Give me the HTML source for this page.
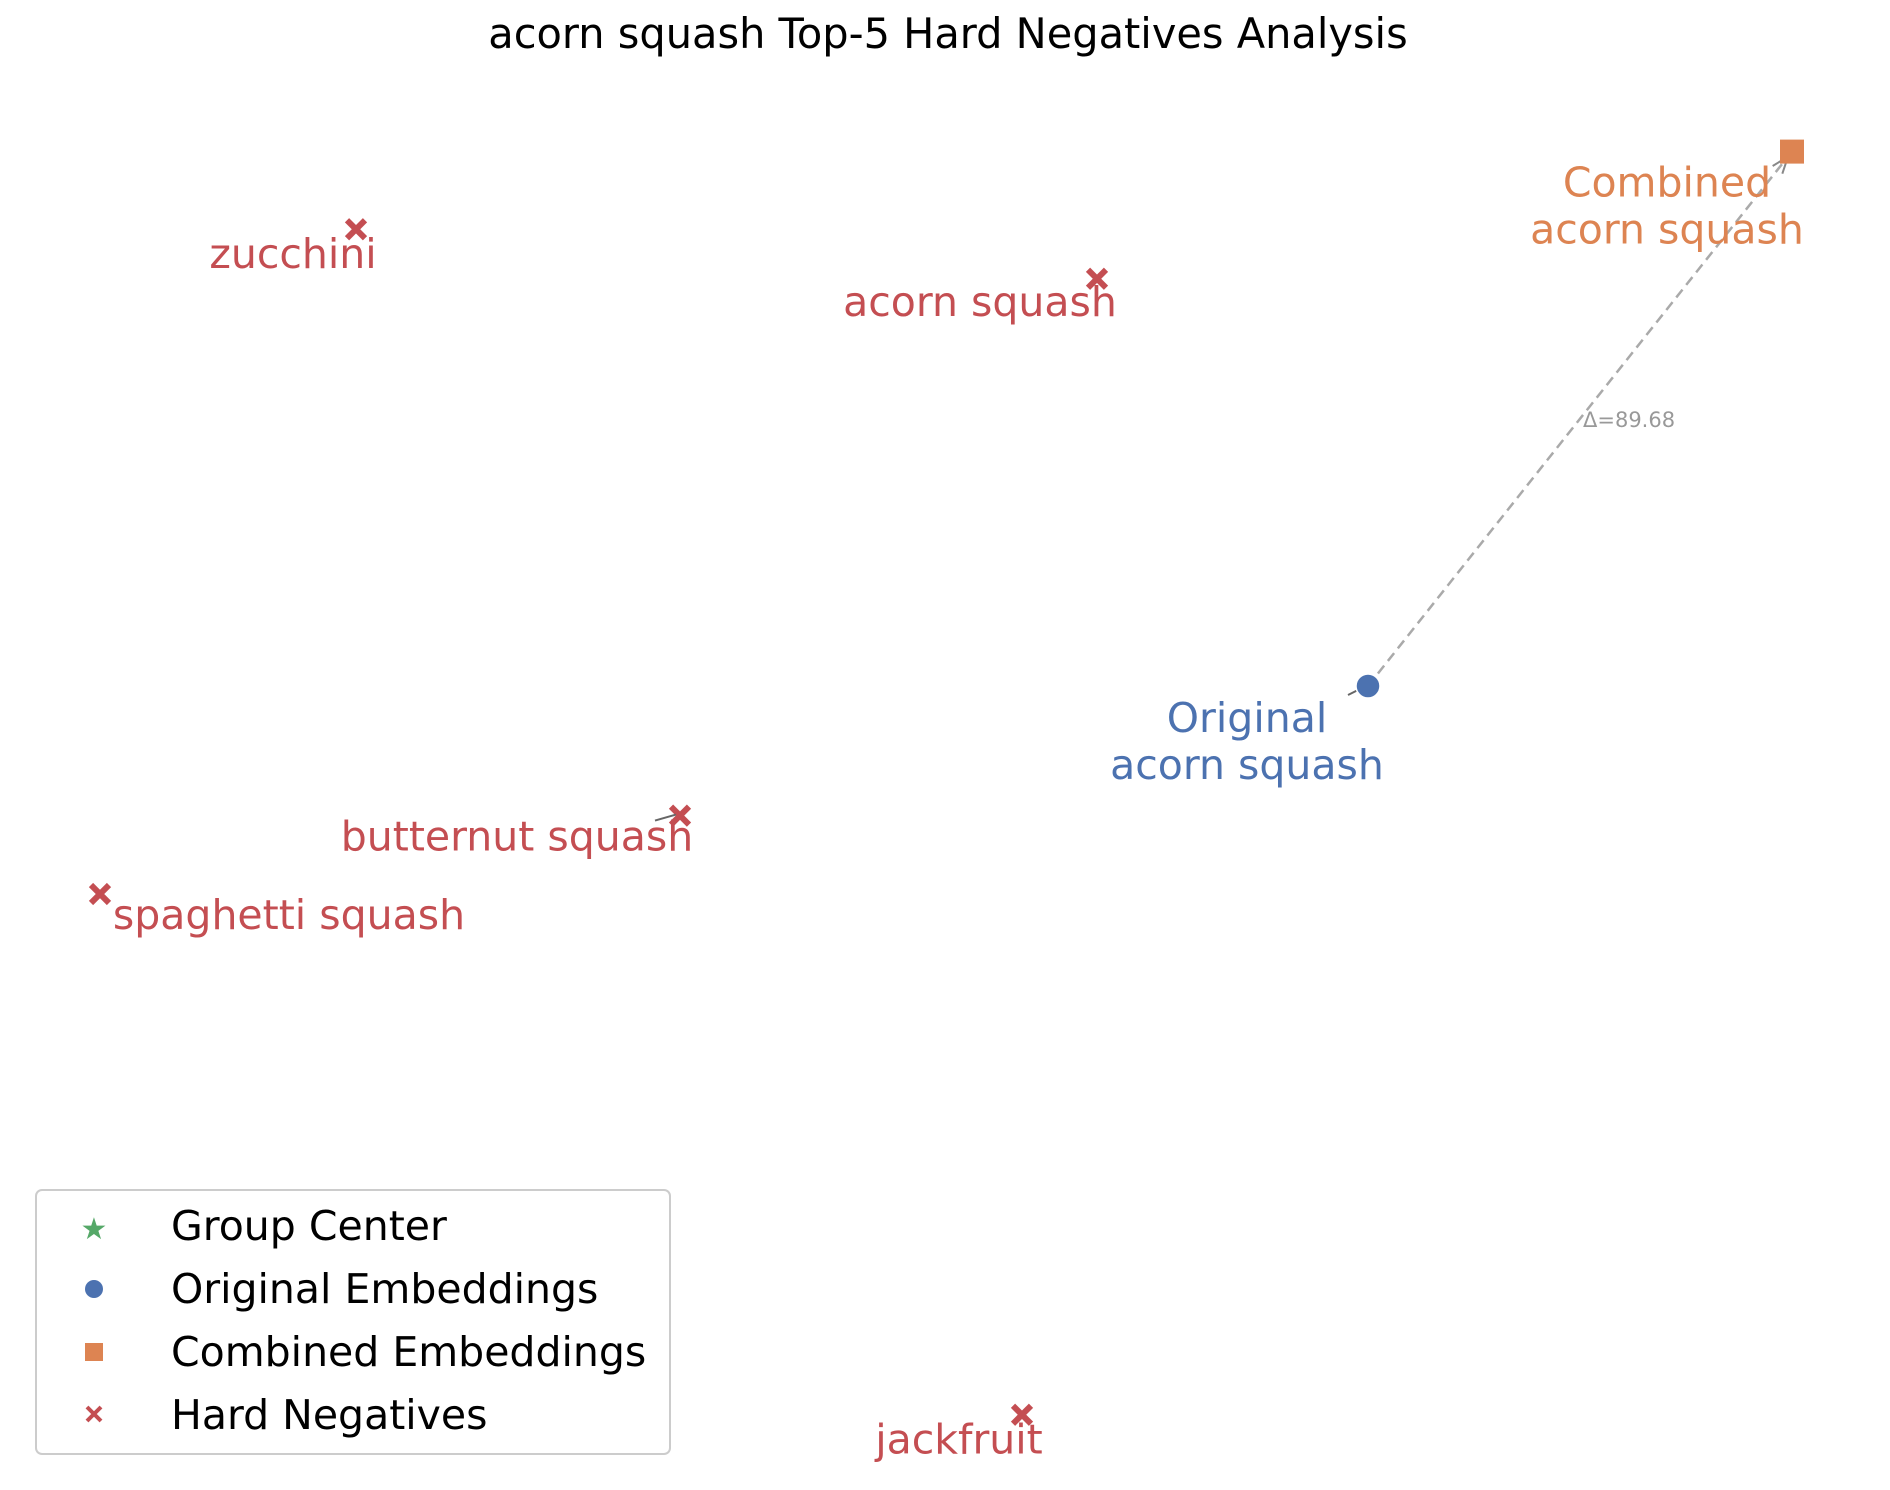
<!DOCTYPE html>
<html><head><meta charset="utf-8"><style>
html,body{margin:0;padding:0;background:#fff;}
svg{display:block;font-family:"DejaVu Sans","Liberation Sans",sans-serif;}
</style></head><body>
<svg id="chart" width="1890" height="1490" viewBox="0 0 1890 1490">
<text x="948" y="48" text-anchor="middle" font-size="41.5" fill="#000">acorn squash Top-5 Hard Negatives Analysis</text>
<g id="marks"></g>
<g transform="translate(0,-6)">
<rect x="36" y="1196" width="634" height="264" rx="6" fill="#fff" stroke="#ccc" stroke-width="2"/>
<g><text x="94" y="1245" text-anchor="middle" font-size="30" fill="#55a868">★</text><text x="171" y="1246" font-size="41" fill="#000">Group Center</text></g>
<g><circle cx="94" cy="1295" r="9" fill="#4c72b0"/><text x="171" y="1309" font-size="41" fill="#000">Original Embeddings</text></g>
<g><rect x="85" y="1349" width="18" height="18" fill="#dd8452"/><text x="171" y="1372" font-size="41" fill="#000">Combined Embeddings</text></g>
<g><path d="M87,1413L101,1427M87,1427L101,1413" stroke="#c44e52" stroke-width="4"/><text x="171" y="1435" font-size="41" fill="#000">Hard Negatives</text></g>
</g>
</svg>
<script>
const negNames = ["zucchini","acorn squash","butternut squash","spaghetti squash","jackfruit"];
const negX = [35.6,109.7,68.0,10.0,102.2];
const negY = [157.6,151.4,84.3,74.5,9.4];
const negLabelDx = [-6.3,-11.7,-16.3,18.9,-6.3];
const negLabelDy = [-3.1,-2.9,-2.6,-2.6,-3.1];
const origX = [136.8];
const origY = [100.5];
const combX = [179.2];
const combY = [167.3];
const deltaText = ["Δ=89.68"];

function xS(v){return v*10;}
function yS(v){return 1490-v*8;}
const NS="http://www.w3.org/2000/svg";
const g=document.getElementById('marks');
function mk(tag,attrs){const e=document.createElementNS(NS,tag);for(const k in attrs)e.setAttribute(k,attrs[k]);g.appendChild(e);return e;}

const ox=xS(origX[0]),oy=yS(origY[0]),cx=xS(combX[0]),cy=yS(combY[0]);
const ln=mk('line',{x1:ox,y1:oy,x2:cx-4,y2:cy+5,stroke:'#aaa','stroke-width':2.5,'stroke-dasharray':'10,6'});


const ang=Math.atan2(cy-oy,cx-ox);
const ah=mk('path',{d:`M${cx-4-18*Math.cos(ang-0.35)},${cy+5-18*Math.sin(ang-0.35)} L${cx-4},${cy+5} L${cx-4-18*Math.cos(ang+0.35)},${cy+5-18*Math.sin(ang+0.35)}`,fill:'none',stroke:'#888','stroke-width':2});


const dt=mk('text',{x:(ox+cx)/2+3,y:(oy+cy)/2+8,'font-size':21,fill:'#999'});
dt.textContent=deltaText[0];



for(let i=0;i<negNames.length;i++){
  const x=xS(negX[i]),y=yS(negY[i]);
  const m=mk('path',{d:`M${x-9},${y-9}L${x+9},${y+9}M${x-9},${y+9}L${x+9},${y-9}`,stroke:'#c44e52','stroke-width':6});
  
  
  const t=mk('text',{x:xS(negX[i]+negLabelDx[i]),y:yS(negY[i]+negLabelDy[i])+14,'text-anchor':'middle','font-size':41,fill:'#c44e52'});
  t.textContent=negNames[i];
  
  
}
const l1=mk('line',{x1:xS(negX[2])-25,y1:yS(negY[2])+5,x2:xS(negX[2])-4,y2:yS(negY[2])-1,stroke:'#666','stroke-width':2});


const l2=mk('line',{x1:ox-20,y1:oy+9,x2:ox-6,y2:oy+2,stroke:'#666','stroke-width':2});



const c=mk('circle',{cx:ox,cy:oy,r:12,fill:'#4c72b0',stroke:'#fff','stroke-width':1.5});


const ot=mk('text',{x:ox-121,y:oy+46,'text-anchor':'middle','font-size':41,fill:'#4c72b0'});
ot.innerHTML='<tspan x="'+(ox-121)+'">Original</tspan><tspan x="'+(ox-121)+'" dy="47">acorn squash</tspan>';



const s=mk('rect',{x:cx-12,y:cy-12,width:24,height:24,fill:'#dd8452'});


const ct=mk('text',{x:cx-125,y:cy+45,'text-anchor':'middle','font-size':41,fill:'#dd8452'});
ct.innerHTML='<tspan x="'+(cx-125)+'">Combined</tspan><tspan x="'+(cx-125)+'" dy="47">acorn squash</tspan>';


</script>
</body></html>
